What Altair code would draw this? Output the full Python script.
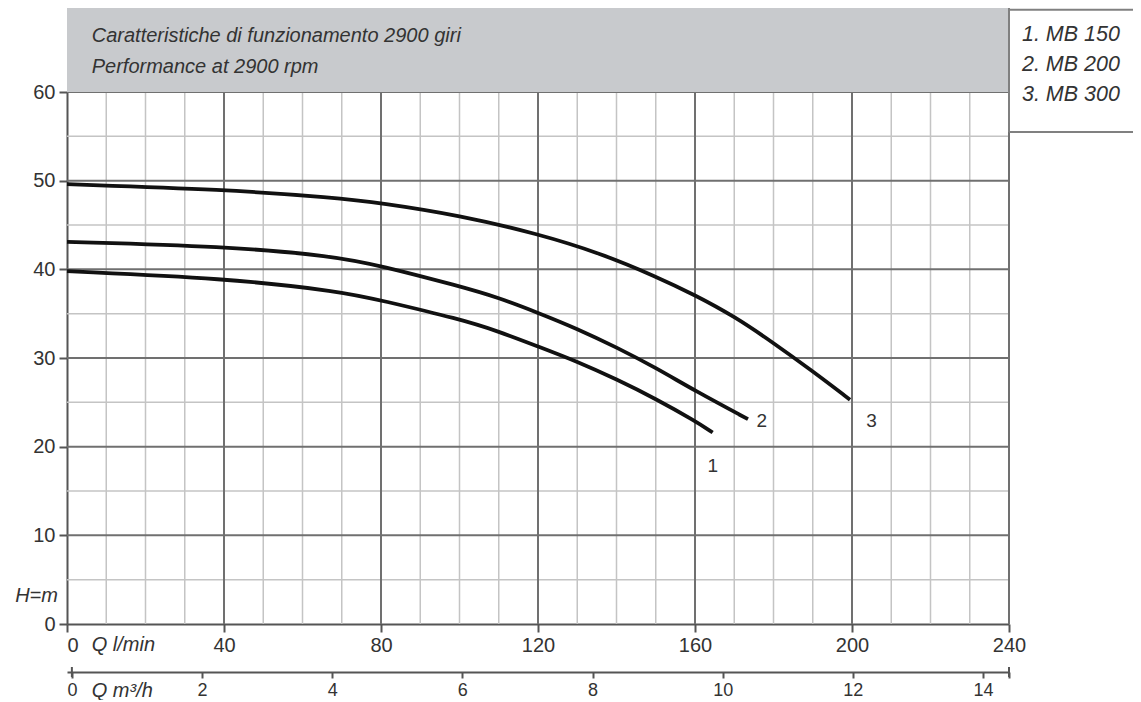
import altair as alt
import pandas as pd

FONT = "Liberation Sans"
TXT = "#333333"

# ---- data ----
q1 = [0, 40, 70, 80, 100, 110, 120, 130, 140, 150, 160, 164.5]
h1 = [39.8, 39.0, 37.5, 36.5, 34.4, 33.0, 31.3, 29.6, 27.6, 25.4, 22.9, 21.6]
q2 = [0, 40, 68, 80, 100, 110, 120, 130, 140, 150, 160, 173.5]
h2 = [43.1, 42.6, 41.5, 40.4, 38.1, 36.8, 35.1, 33.3, 31.2, 28.9, 26.3, 23.1]
q3 = [0, 40, 68, 80, 100, 120, 136, 150, 160, 170, 180, 190, 199.5]
h3 = [49.6, 49.0, 48.1, 47.5, 46.1, 44.0, 41.8, 39.2, 37.1, 34.7, 31.7, 28.5, 25.3]

curve_ids = ["1", "2", "3"]
label_q = [164.5, 177, 205]
label_h = [17.8, 22.9, 22.9]

x_ticks = [0, 40, 80, 120, 160, 200, 240]
m3_ticks = [0, 2, 4, 6, 8, 10, 12, 14, 14.4]
m3_ends = [0, 14.4]
y_ticks = [0, 10, 20, 30, 40, 50, 60]
x_major = [40, 80, 120, 160, 200, 240]
x_minor = [10, 20, 30, 50, 60, 70, 90, 100, 110, 130, 140, 150, 170, 180, 190, 210, 220, 230]
y_major = [10, 20, 30, 40, 50, 60]
y_minor = [5, 15, 25, 35, 45, 55]

header_lines = ["Caratteristiche di funzionamento 2900 giri", "Performance at 2900 rpm"]
header_y = [66.3, 62.8]
legend_lines = ["1. MB 150", "2. MB 200", "3. MB 300"]
legend_y = [66.4, 63.0, 59.7]

W, H = 942, 532

curves = pd.DataFrame(
    {"series": ["1"] * len(q1) + ["2"] * len(q2) + ["3"] * len(q3),
     "Q": q1 + q2 + q3, "H": h1 + h2 + h3}
)

xs = alt.Scale(domain=[0, 240], nice=False, zero=False)
ys = alt.Scale(domain=[0, 60], nice=False, zero=False)

x_axis = alt.Axis(
    values=x_ticks, grid=False, title=None, domainColor="#555", domainWidth=2,
    tickColor="#555", tickWidth=2, tickSize=8, labelFontSize=20, labelColor=TXT,
    labelFont=FONT, labelPadding=3, labelFlush=False, labelOverlap=False,
    labelAlign=alt.condition("datum.value === 0", alt.value("left"), alt.value("center")),
)
y_axis = alt.Axis(
    values=y_ticks, grid=False, title=None, domainColor="#555", domainWidth=2,
    tickColor="#555", tickWidth=2, tickSize=8, labelFontSize=20, labelColor=TXT,
    labelFont=FONT, labelPadding=4,
)

X = lambda f: alt.X(f, scale=xs, axis=x_axis)
Y = lambda f: alt.Y(f, scale=ys, axis=y_axis)

minor_v = alt.Chart(pd.DataFrame({"x": x_minor})).mark_rule(color="#c4c4c4", strokeWidth=1.5).encode(x=X("x:Q"))
minor_h = alt.Chart(pd.DataFrame({"y": y_minor})).mark_rule(color="#c4c4c4", strokeWidth=1.5).encode(y=Y("y:Q"))
major_v = alt.Chart(pd.DataFrame({"x": x_major})).mark_rule(color="#707070", strokeWidth=2).encode(x=X("x:Q"))
major_h = alt.Chart(pd.DataFrame({"y": y_major})).mark_rule(color="#707070", strokeWidth=2).encode(y=Y("y:Q"))

top = 60 + 84 / (H / 60)
header = alt.Chart(pd.DataFrame({"x": [0], "x2": [240], "y": [60], "y2": [top]})).mark_rect(
    fill="#c8cacd").encode(x=X("x:Q"), x2="x2", y=Y("y:Q"), y2="y2")

box_right = 271.6
box = alt.Chart(pd.DataFrame({"x": [240], "x2": [box_right], "y": [55.5], "y2": [top]})).mark_rect(
    fill="white").encode(x=X("x:Q"), x2="x2", y=Y("y:Q"), y2="y2")
box_border = alt.Chart(pd.DataFrame({
    "x": [240, 240, 240], "x2": [240, box_right, box_right],
    "y": [55.5, top - 0.2, 55.5], "y2": [top, top - 0.2, 55.5]})).mark_rule(
    color="#808080", strokeWidth=2).encode(x=X("x:Q"), x2="x2", y=Y("y:Q"), y2="y2")

lines = alt.Chart(curves).mark_line(interpolate="basis", color="#111111", strokeWidth=3.8).encode(
    x=X("Q:Q"), y=Y("H:Q"), detail="series:N")

clabels = alt.Chart(pd.DataFrame({"t": curve_ids, "Q": label_q, "H": label_h})).mark_text(
    font=FONT, fontSize=19, color=TXT, align="center", baseline="middle").encode(
    x=X("Q:Q"), y=Y("H:Q"), text="t:N")

htext = alt.Chart(pd.DataFrame({"t": header_lines, "x": [6.3, 6.3], "y": header_y})).mark_text(
    font=FONT, fontSize=20, fontStyle="italic", color=TXT, align="left", baseline="middle").encode(
    x=X("x:Q"), y=Y("y:Q"), text="t:N")

ltext = alt.Chart(pd.DataFrame({"t": legend_lines, "x": [243.3] * 3, "y": legend_y})).mark_text(
    font=FONT, fontSize=21.5, fontStyle="italic", color=TXT, align="left", baseline="middle").encode(
    x=X("x:Q"), y=Y("y:Q"), text="t:N")

atext = alt.Chart(pd.DataFrame({
    "t": ["Q l/min", "Q m³/h"], "x": [6.3, 6.3], "y": [-2.42, -7.6]})).mark_text(
    font=FONT, fontSize=20, fontStyle="italic", color=TXT, baseline="middle", align="left").encode(
    x=X("x:Q"), y=Y("y:Q"), text="t:N")

htitle = alt.Chart(pd.DataFrame({"t": ["H=m"], "x": [-2.3], "y": [3.2]})).mark_text(
    font=FONT, fontSize=20, fontStyle="italic", color=TXT, baseline="middle", align="right").encode(
    x=X("x:Q"), y=Y("y:Q"), text="t:N")

main = alt.layer(minor_v, minor_h, major_v, major_h, header, box, box_border, lines,
                 clabels, htext, ltext, atext, htitle)

m3_axis = alt.Axis(
    orient="bottom", offset=48, values=m3_ticks, grid=False, title=None,
    domainColor="#555", domainWidth=2, tickColor="#555", tickWidth=2, tickSize=6,
    labelFontSize=18, labelColor=TXT, labelFont=FONT, labelPadding=3,
    labelFlush=False, labelOverlap=False,
    labelExpr="datum.value > 14.2 ? '' : datum.label",
)
m3 = alt.Chart(pd.DataFrame({"m3": m3_ends})).mark_rule(color="#555", strokeWidth=2).encode(
    x=alt.X("m3:Q", scale=alt.Scale(domain=[-0.075, 14.4], nice=False, zero=False), axis=m3_axis),
    y=alt.value(H + 43), y2=alt.value(H + 53))

chart = alt.layer(main, m3).resolve_scale(x="independent").properties(
    width=W, height=H,
    autosize=alt.AutoSizeParams(type="none"),
    padding={"left": 59, "top": 84, "right": 124, "bottom": 76},
).configure_view(stroke=None)

chart.save("out.html", embed_options={"renderer": "svg", "actions": False})
